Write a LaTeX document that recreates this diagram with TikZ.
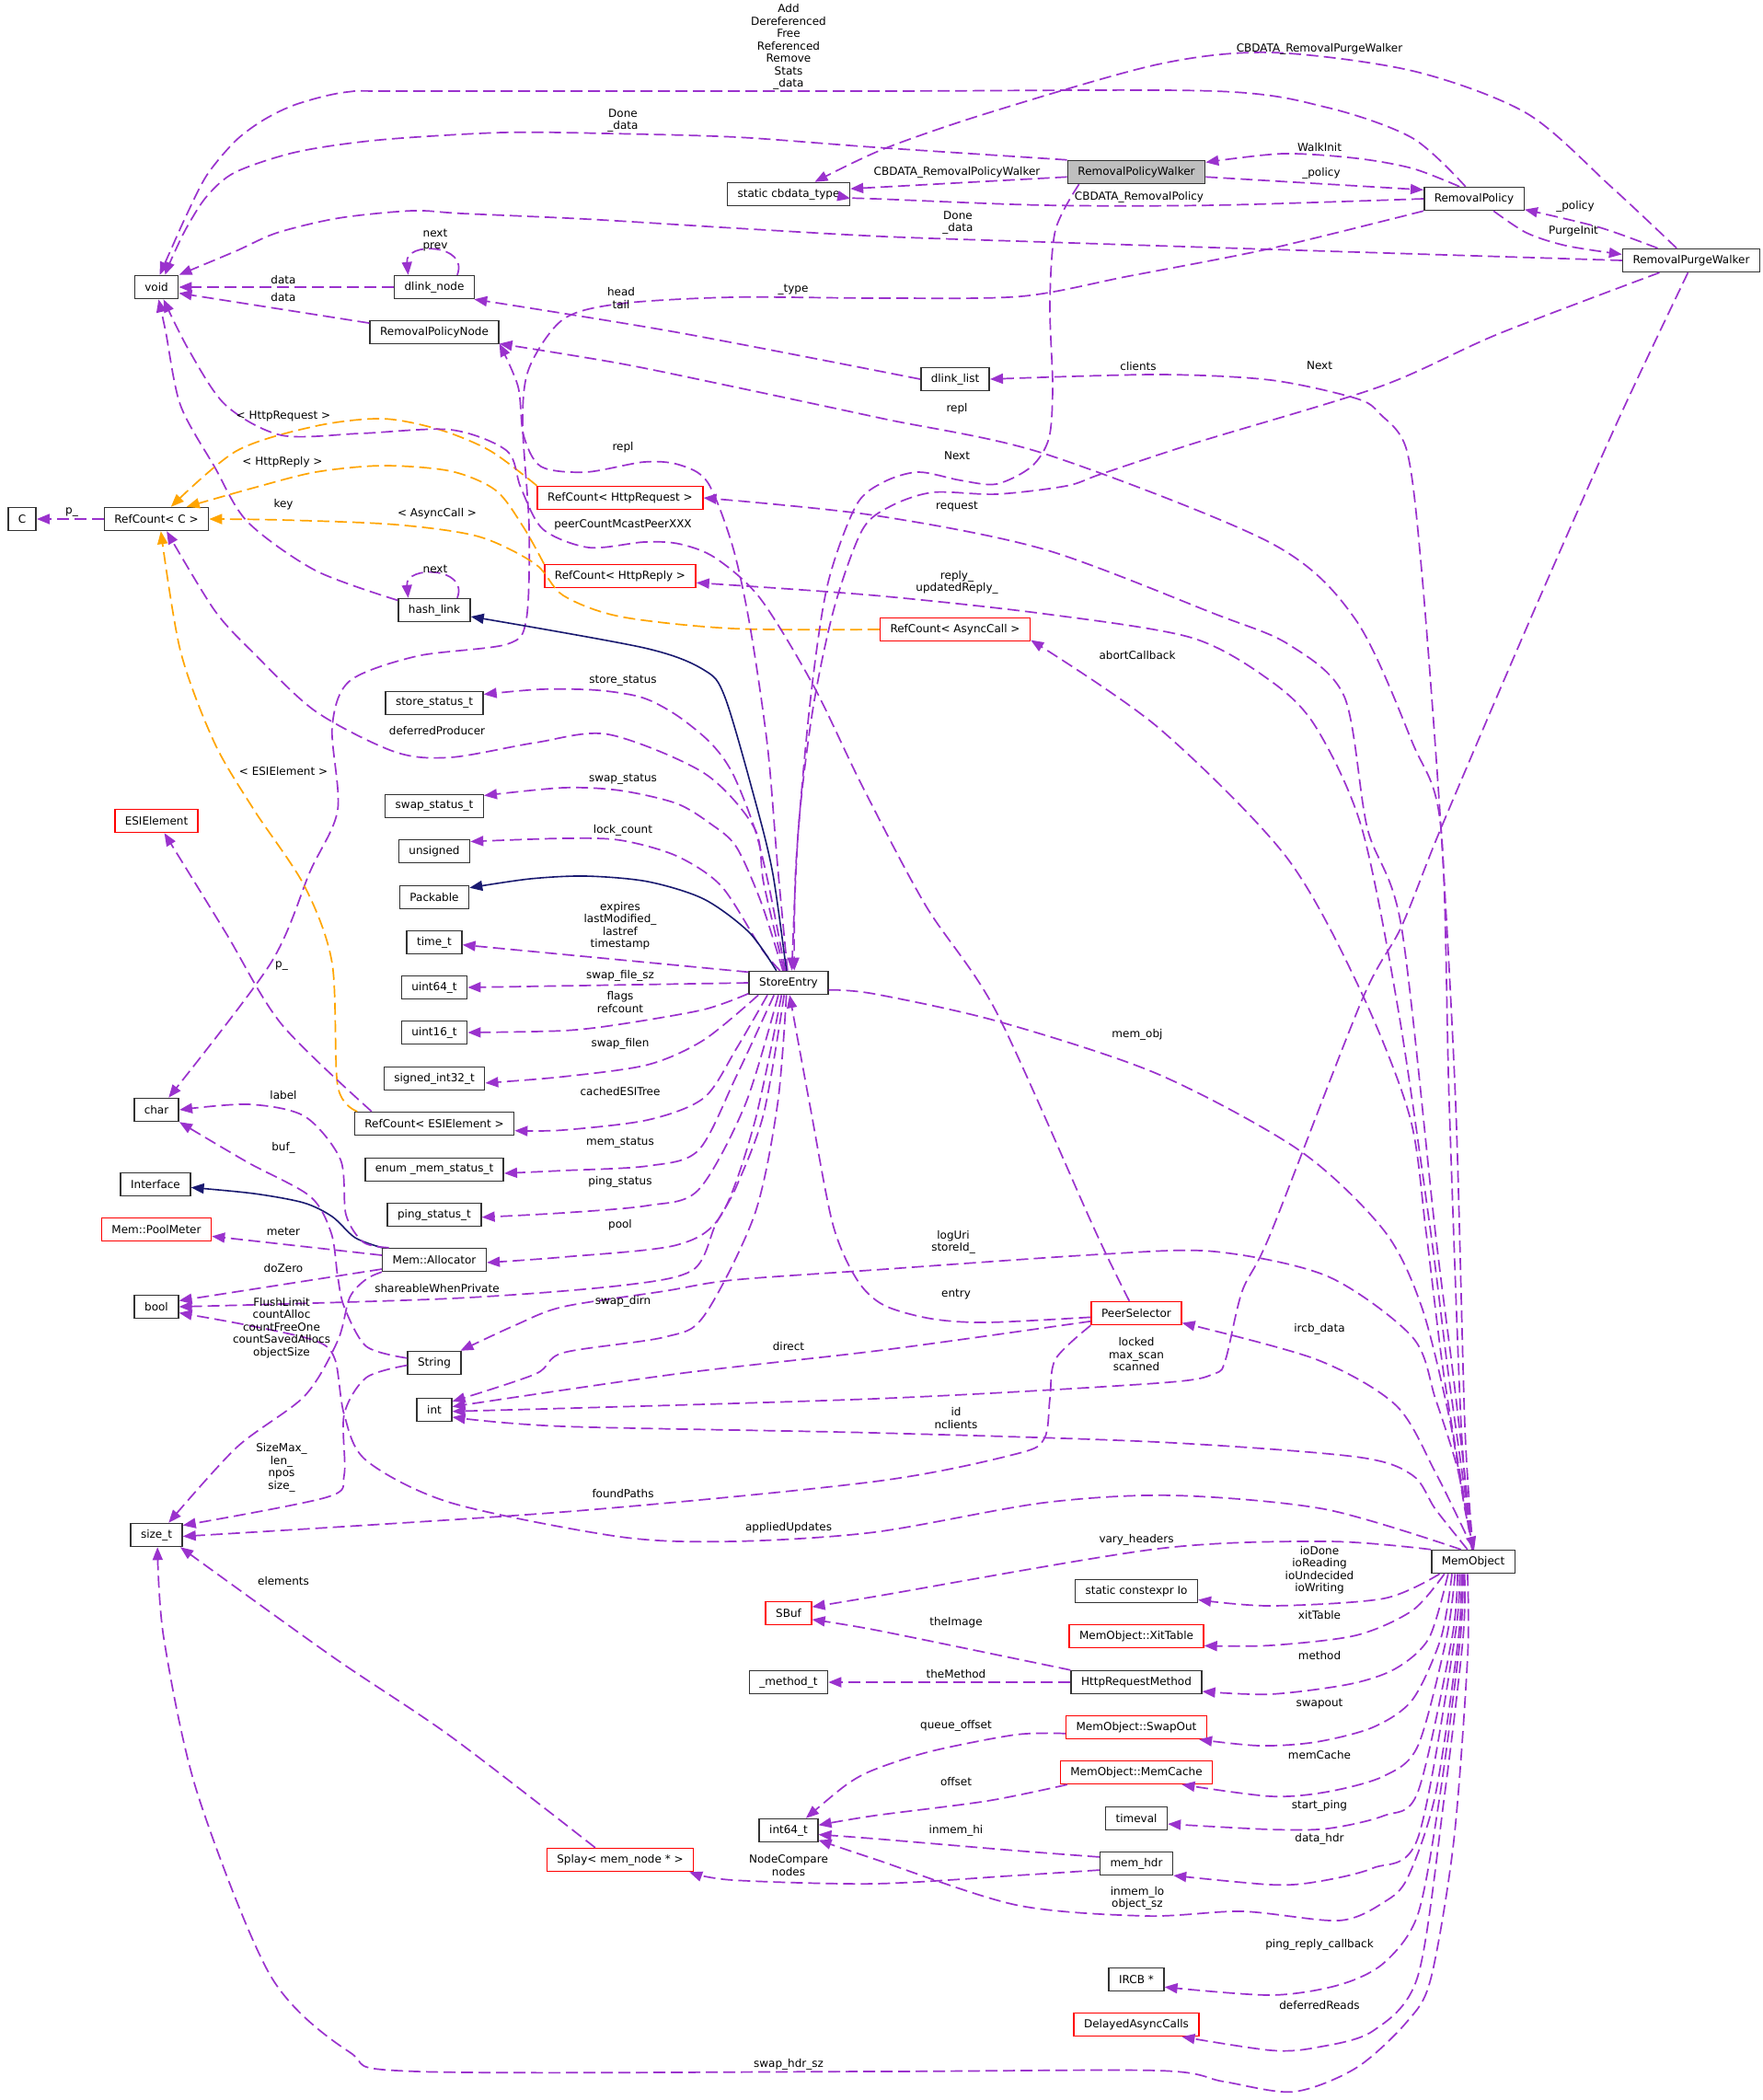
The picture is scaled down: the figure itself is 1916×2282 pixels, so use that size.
\documentclass[tikz,border=0pt]{standalone}
\usepackage{fontspec}
\setmainfont{DejaVu Sans}
\usetikzlibrary{arrows.meta}
\definecolor{dxpurple}{HTML}{9A32CD}
\definecolor{dxorange}{HTML}{FFA500}
\definecolor{dxnavy}{HTML}{191970}
\definecolor{dxgray}{HTML}{BFBFBF}
\newcommand\dxfont{\fontsize{6}{6.75}\selectfont}
\tikzset{
  dxbox/.style={draw=black!80, line width=0.75pt, fill=white, inner xsep=5.5pt,
                inner ysep=1pt, minimum height=12.5pt, font=\dxfont},
  dxred/.style={dxbox, draw=red},
  dxself/.style={dxbox, fill=dxgray},
  dxuse/.style={draw=dxpurple, line width=0.85pt, dash pattern=on 6.5pt off 3pt,
                -{Triangle[length=7pt,width=5.5pt]}},
  dxtpl/.style={dxuse, draw=dxorange},
  dxinh/.style={draw=dxnavy, line width=0.8pt, -{Triangle[length=7pt,width=5.5pt]}},
  dxlab/.style={font=\dxfont, align=center, inner sep=0pt},
}

\begin{document}
\begin{tikzpicture}[x=0.5pt, y=-0.5pt]
  \useasboundingbox (0,0) rectangle (1916,2282);

  \node[dxself] (rpwalker) at (1235,187) {RemovalPolicyWalker};
  \node[dxbox] (cbdata) at (857,211) {static cbdata\_type};
  \node[dxbox] (rpolicy) at (1602,216) {RemovalPolicy};
  \node[dxbox] (rpurge) at (1838,283) {RemovalPurgeWalker};
  \node[dxbox] (void) at (170,312) {void};
  \node[dxbox] (dlnode) at (472,312) {dlink\_node};
  \node[dxbox] (rpnode) at (472,361) {RemovalPolicyNode};
  \node[dxbox] (dllist) at (1038,412) {dlink\_list};
  \node[dxred] (rchreq) at (674,541) {RefCount< HttpRequest >};
  \node[dxbox] (cnode) at (24,564) {C};
  \node[dxbox] (rcc) at (170,564) {RefCount< C >};
  \node[dxred] (rchrep) at (674,626) {RefCount< HttpReply >};
  \node[dxbox] (hashlink) at (472,663) {hash\_link};
  \node[dxred] (rcasync) at (1038,684) {RefCount< AsyncCall >};
  \node[dxbox] (storest) at (472,764) {store\_status\_t};
  \node[dxbox] (swapst) at (472,876) {swap\_status\_t};
  \node[dxred] (esielem) at (170,892) {ESIElement};
  \node[dxbox] (unsignedt) at (472,925) {unsigned};
  \node[dxbox] (packable) at (472,975) {Packable};
  \node[dxbox] (timet) at (472,1024) {time\_t};
  \node[dxbox] (uint64) at (472,1073) {uint64\_t};
  \node[dxbox] (storeentry) at (857,1068) {StoreEntry};
  \node[dxbox] (uint16) at (472,1122) {uint16\_t};
  \node[dxbox] (sint32) at (472,1172) {signed\_int32\_t};
  \node[dxbox] (chart) at (170,1206) {char};
  \node[dxbox] (rcesi) at (472,1221) {RefCount< ESIElement >};
  \node[dxbox] (memst) at (472,1271) {enum \_mem\_status\_t};
  \node[dxbox] (iface) at (169,1287) {Interface};
  \node[dxbox] (pingst) at (472,1320) {ping\_status\_t};
  \node[dxred] (poolmeter) at (170,1336) {Mem::PoolMeter};
  \node[dxbox] (allocator) at (472,1369) {Mem::Allocator};
  \node[dxbox] (boolt) at (170,1420) {bool};
  \node[dxbox] (stringt) at (472,1481) {String};
  \node[dxred] (peersel) at (1235,1427) {PeerSelector};
  \node[dxbox] (intt) at (472,1532) {int};
  \node[dxbox] (sizet) at (170,1668) {size\_t};
  \node[dxbox] (memobject) at (1601,1697) {MemObject};
  \node[dxred] (sbuf) at (857,1753) {SBuf};
  \node[dxbox] (ioconst) at (1235,1729) {static constexpr Io};
  \node[dxred] (xittable) at (1235,1778) {MemObject::XitTable};
  \node[dxbox] (methodt) at (857,1828) {\_method\_t};
  \node[dxbox] (reqmethod) at (1235,1828) {HttpRequestMethod};
  \node[dxred] (swapout) at (1235,1877) {MemObject::SwapOut};
  \node[dxred] (memcache) at (1235,1926) {MemObject::MemCache};
  \node[dxbox] (int64) at (857,1989) {int64\_t};
  \node[dxbox] (timeval) at (1235,1976) {timeval};
  \node[dxred] (splay) at (674,2021) {Splay< mem\_node * >};
  \node[dxbox] (memhdr) at (1235,2025) {mem\_hdr};
  \node[dxbox] (ircb) at (1235,2151) {IRCB *};
  \node[dxred] (delayed) at (1235,2200) {DelayedAsyncCalls};

  \draw[dxuse] plot[smooth] coordinates {(rpolicy.125) (1535,150) (1443,117) (1320,99) (950,99) (450,99) (377,100) (323,113) (287,130) (256,153) (225,190) (203,233) (185,273) (void.75)};
  \draw[dxuse] plot[smooth] coordinates {(rpwalker.north west) (950,160) (800,149) (658,145) (546,144) (413,152) (323,165) (256,187) (225,213) (203,247) (187,280) (void.55)};
  \draw[dxuse] (rpwalker.184) -- (cbdata.5);
  \draw[dxuse] plot[smooth] coordinates {(rpolicy.west) (1320,223) (1135,223) (950,216) (cbdata.-4)};
  \draw[dxuse] plot[smooth] coordinates {(rpurge.140) (1751,203) (1659,123) (1535,77) (1381,57) (1258,70) (1073,123) (960,162) (cbdata.25)};
  \draw[dxuse] plot[smooth] coordinates {(rpolicy.140) (1535,183) (1474,172) (1394,167) (rpwalker.8)};
  \draw[dxuse] (rpwalker.-4) -- (rpolicy.170);
  \draw[dxuse] plot[smooth] coordinates {(rpurge.160) (1738,247) (rpolicy.-12)};
  \draw[dxuse] plot[smooth] coordinates {(rpolicy.-32) (1659,253) (1702,267) (rpurge.175)};
  \draw[dxuse] plot[smooth] coordinates {(rpurge.west) (1381,271) (1135,263) (960,257) (800,248) (636,238) (502,232) (448,229) (368,237) (301,253) (256,273) (void.north east)};
  \draw[dxuse] plot[smooth] coordinates {(rpolicy.south west) (1381,270) (1227,300) (1110,322) (960,324) (796,323) (674,330) (612,347) (575,400) (568,460) (575,573) (572,673) (551,700) (453,713) (380,740) (361,790) (367,880) (337,947) (294,1047) (chart.45)};

  \draw[dxuse] (dlnode.west) -- (void.east);
  \draw[dxuse] (rpnode.172) -- (void.-15);
  \draw[dxuse] (dlnode.28) .. controls (510,265) and (440,262) .. (dlnode.155);
  \draw[dxuse] plot[smooth] coordinates {(dllist.west) (735,361) (dlnode.-17)};
  \draw[dxuse] (hashlink.28) .. controls (510,616) and (440,614) .. (hashlink.155);
  \draw[dxuse] plot[smooth] coordinates {(hashlink.165) (343,620) (269,567) (233,507) (196,440) (180,360) (void.-80)};
  \draw[dxuse] (rcc.west) -- (cnode.east);

  \draw[dxtpl] plot[smooth] coordinates {(rchreq.north west) (533,490) (478,467) (416,455) (343,463) (257,490) (rcc.40)};
  \draw[dxtpl] plot[smooth] coordinates {(rchrep.north west) (569,573) (539,533) (490,512) (416,506) (343,513) (276,530) (rcc.22)};
  \draw[dxtpl] plot[smooth] coordinates {(rcasync.west) (796,683) (674,670) (612,647) (582,613) (520,583) (429,570) (306,565) (rcc.east)};
  \draw[dxtpl] plot[smooth] coordinates {(rcesi.171) (367,1180) (361,1047) (331,963) (276,880) (233,807) (196,707) (rcc.-70)};
  \draw[dxuse] plot[smooth] coordinates {(rcesi.169) (306,1113) (245,1013) (esielem.-57)};

  \draw[dxuse] plot[smooth] coordinates {(peersel.120) (1190,1337) (1083,1100) (1006,984) (937,854) (884,745) (826,650) (777,606) (738,591) (700,589) (640,595) (590,575) (566,530) (551,490) (490,467) (392,471) (306,473) (245,440) (205,380) (void.-60)};

  \draw[dxuse] plot[smooth] coordinates {(storeentry.95) (845,940) (834,810) (815,680) (796,593) (769,524) (738,505) (700,502) (637,513) (588,507) (569,473) (563,420) (rpnode.-10)};
  \draw[dxinh] plot[smooth] coordinates {(storeentry.100) (840,950) (822,875) (788,758) (765,728) (700,704) (hashlink.-10)};
  \draw[dxuse] plot[smooth] coordinates {(storeentry.105) (835,960) (820,900) (796,840) (772,807) (735,777) (698,758) (649,750) (588,749) (storest.10)};
  \draw[dxuse] plot[smooth] coordinates {(storeentry.110) (830,960) (820,900) (765,840) (661,798) (582,807) (490,823) (429,817) (343,773) (276,710) (233,663) (rcc.-50)};
  \draw[dxuse] plot[smooth] coordinates {(storeentry.115) (827,980) (800,920) (772,895) (735,873) (674,859) (612,856) (swapst.12)};
  \draw[dxuse] plot[smooth] coordinates {(storeentry.125) (827,1030) (784,963) (735,930) (674,913) (612,911) (unsignedt.15)};
  \draw[dxinh] plot[smooth] coordinates {(storeentry.135) (814,1013) (765,977) (704,958) (637,952) (576,955) (packable.15)};
  \draw[dxuse] (storeentry.165) -- (timet.-5);
  \draw[dxuse] (storeentry.west) -- (uint64.east);
  \draw[dxuse] plot[smooth] coordinates {(storeentry.-165) (765,1097) (674,1113) (612,1120) (uint16.east)};
  \draw[dxuse] plot[smooth] coordinates {(storeentry.-158) (765,1130) (704,1157) (612,1170) (sint32.-5)};
  \draw[dxuse] plot[smooth] coordinates {(storeentry.-150) (800,1140) (765,1193) (704,1217) (612,1228) (rcesi.-5)};
  \draw[dxuse] plot[smooth] coordinates {(storeentry.-140) (800,1170) (759,1250) (704,1267) (612,1272) (memst.-3)};
  \draw[dxuse] plot[smooth] coordinates {(storeentry.-130) (810,1200) (759,1293) (704,1310) (612,1318) (pingst.-3)};
  \draw[dxuse] plot[smooth] coordinates {(storeentry.-120) (820,1220) (784,1320) (735,1353) (612,1366) (allocator.-3)};
  \draw[dxuse] plot[smooth] coordinates {(storeentry.-110) (830,1210) (800,1290) (778,1330) (753,1380) (674,1397) (490,1411) (boolt.east)};
  \draw[dxuse] plot[smooth] coordinates {(storeentry.-100) (845,1200) (820,1320) (765,1430) (722,1453) (612,1470) (582,1493) (intt.25)};
  \draw[dxuse] plot[smooth] coordinates {(storeentry.-10) (950,1080) (1085,1110) (1258,1167) (1412,1250) (1504,1337) (1545,1420) (1575,1540) (1592,1640) (memobject.85)};

  \draw[dxuse] plot[smooth] coordinates {(rpwalker.-168) (1147,250) (1141,330) (1144,420) (1140,476) (1121,507) (1083,526) (1044,522) (998,513) (960,524) (930,550) (899,637) (880,767) (865,940) (storeentry.65)};
  \draw[dxuse] plot[smooth] coordinates {(rpurge.-159) (1628,363) (1500,420) (1300,481) (1197,515) (1159,528) (1083,537) (1014,535) (968,550) (937,576) (907,659) (884,767) (868,897) (storeentry.75)};

  \draw[dxuse] plot[smooth] coordinates {(peersel.-175) (1073,1437) (1012,1433) (960,1418) (931,1390) (905,1330) (880,1200) (storeentry.-85)};
  \draw[dxuse] plot[smooth] coordinates {(peersel.-170) (960,1467) (735,1493) (intt.10)};
  \draw[dxuse] plot[smooth] coordinates {(peersel.south west) (1147,1477) (1141,1520) (1135,1563) (1104,1580) (950,1610) (612,1643) (sizet.-3)};
  \draw[dxuse] plot[smooth] coordinates {(rpurge.-105) (1757,460) (1660,680) (1566,900) (1523,1007) (1480,1087) (1381,1340) (1350,1403) (1332,1477) (1319,1493) (1258,1503) (950,1520) (intt.-5)};

  \draw[dxuse] plot[smooth] coordinates {(memobject.95) (1588,1550) (1575,1200) (1566,900) (1535,807) (1473,673) (1381,590) (1135,493) (960,455) (796,420) (674,395) (rpnode.-10)};
  \draw[dxuse] plot[smooth] coordinates {(memobject.north) (1592,1550) (1582,1200) (1566,900) (1545,620) (1529,490) (1500,450) (1474,433) (1381,413) (1258,407) (dllist.east)};
  \draw[dxuse] plot[smooth] coordinates {(memobject.north) (1580,1500) (1560,1340) (1523,1007) (1486,900) (1461,757) (1400,700) (1320,667) (1135,597) (950,560) (rchreq.east)};
  \draw[dxuse] plot[smooth] coordinates {(memobject.north) (1575,1500) (1555,1340) (1520,1100) (1480,900) (1430,790) (1381,740) (1295,693) (1135,667) (950,647) (rchrep.-5)};
  \draw[dxuse] plot[smooth] coordinates {(memobject.north) (1570,1500) (1550,1340) (1532,1213) (1477,1073) (1397,930) (1258,790) (rcasync.-8)};
  \draw[dxuse] plot[smooth] coordinates {(memobject.north) (1560,1600) (1517,1527) (1430,1477) (peersel.-12)};
  \draw[dxuse] plot[smooth] coordinates {(memobject.95) (1585,1600) (1560,1520) (1535,1453) (1443,1387) (1320,1360) (1196,1363) (950,1380) (796,1391) (722,1403) (612,1420) (560,1440) (stringt.25)};
  \draw[dxuse] plot[smooth] coordinates {(memobject.115) (1560,1640) (1535,1603) (1473,1583) (1258,1567) (950,1557) (612,1550) (intt.-22)};
  \draw[dxuse] plot[smooth] coordinates {(memobject.135) (1440,1640) (1275,1625) (1134,1633) (950,1665) (796,1675) (674,1670) (490,1633) (398,1587) (374,1537) (364,1477) (343,1457) (269,1440) (boolt.-15)};
  \draw[dxuse] plot[smooth] coordinates {(memobject.north west) (1443,1675) (1258,1683) (950,1735) (sbuf.15)};

  \draw[dxuse] plot[smooth] coordinates {(memobject.-160) (1504,1737) (1381,1745) (ioconst.-8)};
  \draw[dxuse] plot[smooth] coordinates {(memobject.-157) (1535,1750) (1474,1777) (1381,1788) (xittable.-8)};
  \draw[dxuse] plot[smooth] coordinates {(memobject.-154) (1553,1780) (1517,1813) (1467,1830) (1381,1841) (reqmethod.-8)};
  \draw[dxuse] plot[smooth] coordinates {(memobject.-150) (1566,1780) (1535,1847) (1492,1877) (1430,1893) (1369,1897) (swapout.-11)};
  \draw[dxuse] plot[smooth] coordinates {(memobject.-146) (1572,1780) (1541,1897) (1504,1930) (1443,1947) (1381,1952) (memcache.-15)};
  \draw[dxuse] plot[smooth] coordinates {(memobject.-142) (1578,1780) (1541,1947) (1504,1973) (1443,1987) (1381,1988) (timeval.-10)};
  \draw[dxuse] plot[smooth] coordinates {(memobject.-138) (1581,1780) (1541,1997) (1492,2030) (1430,2045) (1381,2048) (memhdr.-18)};
  \draw[dxuse] plot[smooth] coordinates {(memobject.-134) (1585,1780) (1560,1950) (1530,2040) (1504,2067) (1455,2087) (1350,2077) (1246,2082) (1104,2070) (950,2020) (int64.-18)};
  \draw[dxuse] plot[smooth] coordinates {(memobject.-130) (1587,1780) (1565,1950) (1541,2080) (1504,2133) (1455,2157) (1381,2168) (ircb.-15)};
  \draw[dxuse] plot[smooth] coordinates {(memobject.-125) (1590,1780) (1570,1950) (1541,2147) (1492,2207) (1430,2225) (1381,2228) (delayed.-15)};
  \draw[dxuse] plot[smooth] coordinates {(memobject.-115) (1595,1800) (1580,2000) (1555,2150) (1529,2197) (1474,2247) (1406,2273) (1330,2262) (1258,2250) (950,2251) (453,2251) (380,2230) (294,2147) (214,1947) (178,1780) (sizet.-85)};

  \draw[dxuse] plot[smooth] coordinates {(reqmethod.north west) (1092,1800) (950,1771) (sbuf.-15)};
  \draw[dxuse] (reqmethod.west) -- (methodt.east);
  \draw[dxuse] plot[smooth] coordinates {(swapout.-175) (1104,1885) (1012,1903) (950,1923) (919,1940) (int64.35)};
  \draw[dxuse] plot[smooth] coordinates {(memcache.-170) (1073,1957) (950,1973) (int64.10)};
  \draw[dxuse] plot[smooth] coordinates {(memhdr.170) (1104,2011) (950,1998) (int64.-8)};
  \draw[dxuse] plot[smooth] coordinates {(memhdr.-170) (1104,2038) (950,2047) (796,2043) (splay.-10)};
  \draw[dxuse] plot[smooth] coordinates {(splay.154) (490,1887) (361,1800) (sizet.-27)};

  \draw[dxinh] plot[smooth] coordinates {(allocator.north west) (386,1345) (361,1322) (330,1307) (276,1297) (iface.-5)};
  \draw[dxuse] (allocator.175) -- (poolmeter.-7);
  \draw[dxuse] (allocator.-170) -- (boolt.15);
  \draw[dxuse] plot[smooth] coordinates {(allocator.165) (395,1350) (376,1320) (370,1260) (331,1213) (270,1200) (chart.east)};
  \draw[dxuse] plot[smooth] coordinates {(allocator.south west) (398,1390) (380,1410) (367,1457) (331,1517) (257,1573) (sizet.45)};
  \draw[dxuse] plot[smooth] coordinates {(stringt.170) (398,1463) (374,1420) (367,1387) (360,1340) (337,1300) (269,1263) (chart.-28)};
  \draw[dxuse] plot[smooth] coordinates {(stringt.-175) (398,1497) (374,1537) (374,1603) (355,1627) (sizet.20)};

  \node[dxlab] (lbadd) at (857,51) {Add\\Dereferenced\\Free\\Referenced\\Remove\\Stats\\\_data};
  \node[dxlab] (lbcbpurge) at (1434,53) {CBDATA\_RemovalPurgeWalker};
  \node[dxlab] (lbdonewalk) at (677,131) {Done\\\_data};
  \node[dxlab] (lbcbwalk) at (1040,187) {CBDATA\_RemovalPolicyWalker};
  \node[dxlab] (lbwalkinit) at (1434,160) {WalkInit};
  \node[dxlab] (lbpolicya) at (1436,188) {\_policy};
  \node[dxlab] (lbcbpolicy) at (1238,214) {CBDATA\_RemovalPolicy};
  \node[dxlab] (lbpolicyb) at (1712,224) {\_policy};
  \node[dxlab] (lbdonepurge) at (1041,242) {Done\\\_data};
  \node[dxlab] (lbpurgeinit) at (1710,251) {PurgeInit};
  \node[dxlab] (lbnextprev) at (473,261) {next\\prev};
  \node[dxlab] (lbdataa) at (308,304) {data};
  \node[dxlab] (lbdatab) at (308,323) {data};
  \node[dxlab] (lbheadtail) at (675,324) {head\\tail};
  \node[dxlab] (lbtype) at (862,315) {\_type};
  \node[dxlab] (lbclients) at (1237,398) {clients};
  \node[dxlab] (lbnexta) at (1434,397) {Next};
  \node[dxlab] (lbrepla) at (1040,444) {repl};
  \node[dxlab] (lbtplreq) at (308,452) {< HttpRequest >};
  \node[dxlab] (lbreplb) at (677,486) {repl};
  \node[dxlab] (lbnextb) at (1040,495) {Next};
  \node[dxlab] (lbtplrep) at (307,502) {< HttpReply >};
  \node[dxlab] (lbrequest) at (1040,551) {request};
  \node[dxlab] (lbpeercount) at (677,570) {peerCountMcastPeerXXX};
  \node[dxlab] (lbpc) at (78,557) {p\_};
  \node[dxlab] (lbkey) at (308,548) {key};
  \node[dxlab] (lbtplasync) at (475,558) {< AsyncCall >};
  \node[dxlab] (lbnext) at (473,618) {next};
  \node[dxlab] (lbreply) at (1040,633) {reply\_\\updatedReply\_};
  \node[dxlab] (lbabort) at (1236,712) {abortCallback};
  \node[dxlab] (lbstorest) at (677,740) {store\_status};
  \node[dxlab] (lbdeferred) at (475,794) {deferredProducer};
  \node[dxlab] (lbtplesi) at (308,838) {< ESIElement >};
  \node[dxlab] (lbswapst) at (677,847) {swap\_status};
  \node[dxlab] (lblock) at (677,902) {lock\_count};
  \node[dxlab] (lbexpires) at (674,1006) {expires\\lastModified\_\\lastref\\timestamp};
  \node[dxlab] (lbfilesz) at (674,1060) {swap\_file\_sz};
  \node[dxlab] (lbflags) at (674,1089) {flags\\refcount};
  \node[dxlab] (lbpesi) at (306,1050) {p\_};
  \node[dxlab] (lbfilen) at (674,1134) {swap\_filen};
  \node[dxlab] (lbmemobj) at (1236,1124) {mem\_obj};
  \node[dxlab] (lblabel) at (308,1190) {label};
  \node[dxlab] (lbesitree) at (674,1186) {cachedESITree};
  \node[dxlab] (lbbuf) at (308,1247) {buf\_};
  \node[dxlab] (lbmemst) at (674,1242) {mem\_status};
  \node[dxlab] (lbpingst) at (674,1284) {ping\_status};
  \node[dxlab] (lbmeter) at (308,1338) {meter};
  \node[dxlab] (lbpool) at (674,1331) {pool};
  \node[dxlab] (lbloguri) at (1036,1350) {logUri\\storeId\_};
  \node[dxlab] (lbdozero) at (308,1378) {doZero};
  \node[dxlab] (lbshareable) at (475,1400) {shareableWhenPrivate};
  \node[dxlab] (lbflush) at (306,1443) {FlushLimit\\countAlloc\\countFreeOne\\countSavedAllocs\\objectSize};
  \node[dxlab] (lbentry) at (1039,1407) {entry};
  \node[dxlab] (lbdirn) at (677,1414) {swap\_dirn};
  \node[dxlab] (lbircb) at (1434,1444) {ircb\_data};
  \node[dxlab] (lbdirect) at (857,1463) {direct};
  \node[dxlab] (lblocked) at (1235,1472) {locked\\max\_scan\\scanned};
  \node[dxlab] (lbid) at (1039,1541) {id\\nclients};
  \node[dxlab] (lbsizemax) at (306,1595) {SizeMax\_\\len\_\\npos\\size\_};
  \node[dxlab] (lbfound) at (677,1623) {foundPaths};
  \node[dxlab] (lbapplied) at (857,1660) {appliedUpdates};
  \node[dxlab] (lbvary) at (1235,1673) {vary\_headers};
  \node[dxlab] (lbio) at (1434,1706) {ioDone\\ioReading\\ioUndecided\\ioWriting};
  \node[dxlab] (lbelements) at (308,1718) {elements};
  \node[dxlab] (lbxit) at (1434,1755) {xitTable};
  \node[dxlab] (lbimage) at (1039,1763) {theImage};
  \node[dxlab] (lbmethod) at (1434,1799) {method};
  \node[dxlab] (lbthemethod) at (1039,1819) {theMethod};
  \node[dxlab] (lbswapout) at (1434,1852) {swapout};
  \node[dxlab] (lbqueue) at (1039,1875) {queue\_offset};
  \node[dxlab] (lbmemcache) at (1434,1907) {memCache};
  \node[dxlab] (lboffset) at (1039,1936) {offset};
  \node[dxlab] (lbstartping) at (1434,1962) {start\_ping};
  \node[dxlab] (lbinmemhi) at (1039,1989) {inmem\_hi};
  \node[dxlab] (lbdatahdr) at (1434,1998) {data\_hdr};
  \node[dxlab] (lbnodes) at (857,2027) {NodeCompare\\nodes};
  \node[dxlab] (lbinmemlo) at (1236,2063) {inmem\_lo\\object\_sz};
  \node[dxlab] (lbpingreply) at (1434,2113) {ping\_reply\_callback};
  \node[dxlab] (lbdeferredr) at (1434,2179) {deferredReads};
  \node[dxlab] (lbhdrsz) at (857,2243) {swap\_hdr\_sz};
\end{tikzpicture}
\end{document}
